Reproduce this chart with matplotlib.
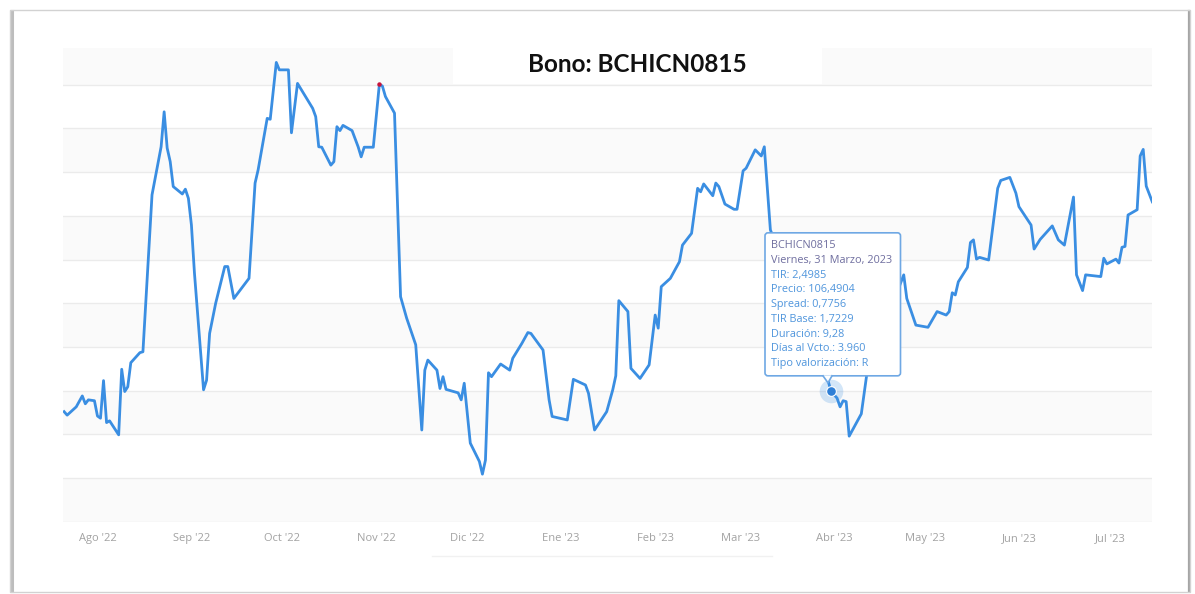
"""TIR history of bond BCHICN0815, redrawn as a Highcharts-like line chart."""

import matplotlib

matplotlib.use("Agg")
import matplotlib.dates as mdates  # noqa: E402
import matplotlib.pyplot as plt  # noqa: E402
import matplotlib.transforms as mtransforms  # noqa: E402
import pandas as pd  # noqa: E402
from matplotlib.lines import Line2D  # noqa: E402
from matplotlib.patches import FancyBboxPatch, Polygon, Rectangle  # noqa: E402

plt.rcParams["font.family"] = ["Open Sans", "DejaVu Sans"]

TITLE = "Bono: BCHICN0815"

# daily TIR (y axis labels are blanked in the source)
dates = [
    "2022-07-21", "2022-07-22", "2022-07-25", "2022-07-27", "2022-07-28", "2022-07-29",
    "2022-07-31", "2022-08-01", "2022-08-02", "2022-08-03", "2022-08-04", "2022-08-05",
    "2022-08-08", "2022-08-09", "2022-08-10", "2022-08-11", "2022-08-12", "2022-08-15",
    "2022-08-16", "2022-08-19", "2022-08-22", "2022-08-23", "2022-08-24", "2022-08-25",
    "2022-08-26", "2022-08-29", "2022-08-30", "2022-08-31", "2022-09-01", "2022-09-02",
    "2022-09-05", "2022-09-06", "2022-09-07", "2022-09-09", "2022-09-12", "2022-09-13",
    "2022-09-15", "2022-09-20", "2022-09-22", "2022-09-23", "2022-09-26", "2022-09-27",
    "2022-09-29", "2022-09-30", "2022-10-03", "2022-10-04", "2022-10-06", "2022-10-11",
    "2022-10-12", "2022-10-13", "2022-10-14", "2022-10-17", "2022-10-18", "2022-10-19",
    "2022-10-20", "2022-10-21", "2022-10-24", "2022-10-26", "2022-10-27", "2022-10-28",
    "2022-10-31", "2022-11-02", "2022-11-03", "2022-11-04", "2022-11-07", "2022-11-09",
    "2022-11-11", "2022-11-14", "2022-11-16", "2022-11-17", "2022-11-18", "2022-11-21",
    "2022-11-22", "2022-11-23", "2022-11-24", "2022-11-28", "2022-11-29", "2022-11-30",
    "2022-12-02", "2022-12-05", "2022-12-06", "2022-12-07", "2022-12-08", "2022-12-09",
    "2022-12-12", "2022-12-15", "2022-12-16", "2022-12-19", "2022-12-21", "2022-12-22",
    "2022-12-26", "2022-12-28", "2022-12-29", "2023-01-03", "2023-01-05", "2023-01-09",
    "2023-01-10", "2023-01-12", "2023-01-16", "2023-01-18", "2023-01-19", "2023-01-20",
    "2023-01-23", "2023-01-24", "2023-01-27", "2023-01-30", "2023-02-01", "2023-02-02",
    "2023-02-03", "2023-02-06", "2023-02-09", "2023-02-10", "2023-02-13", "2023-02-15",
    "2023-02-16", "2023-02-17", "2023-02-20", "2023-02-21", "2023-02-22", "2023-02-24",
    "2023-02-27", "2023-02-28", "2023-03-02", "2023-03-03", "2023-03-06", "2023-03-08",
    "2023-03-09", "2023-03-11", "2023-03-30", "2023-03-31", "2023-04-02", "2023-04-03",
    "2023-04-04", "2023-04-05", "2023-04-06", "2023-04-10", "2023-04-12", "2023-04-24",
    "2023-04-25", "2023-04-28", "2023-05-02", "2023-05-04", "2023-05-05", "2023-05-08",
    "2023-05-09", "2023-05-10", "2023-05-11", "2023-05-12", "2023-05-15", "2023-05-16",
    "2023-05-17", "2023-05-18", "2023-05-19", "2023-05-22", "2023-05-25", "2023-05-26",
    "2023-05-29", "2023-05-31", "2023-06-01", "2023-06-05", "2023-06-06", "2023-06-08",
    "2023-06-12", "2023-06-14", "2023-06-16", "2023-06-19", "2023-06-20", "2023-06-22",
    "2023-06-23", "2023-06-28", "2023-06-29", "2023-06-30", "2023-07-03", "2023-07-04",
    "2023-07-05", "2023-07-06", "2023-07-07", "2023-07-10", "2023-07-11", "2023-07-12",
    "2023-07-13", "2023-07-15",
]
tir = [
    2.452, 2.444, 2.463, 2.488, 2.470, 2.479,
    2.477, 2.442, 2.437, 2.523, 2.427, 2.431,
    2.399, 2.549, 2.498, 2.509, 2.564, 2.587,
    2.589, 2.948, 3.058, 3.138, 3.055, 3.024,
    2.967, 2.950, 2.961, 2.940, 2.879, 2.769,
    2.502, 2.524, 2.631, 2.700, 2.784, 2.784,
    2.711, 2.757, 2.975, 3.005, 3.123, 3.121,
    3.251, 3.234, 3.234, 3.090, 3.203, 3.146,
    3.127, 3.058, 3.057, 3.016, 3.024, 3.104,
    3.095, 3.107, 3.095, 3.058, 3.035, 3.057,
    3.057, 3.201, 3.197, 3.173, 3.135, 2.715,
    2.666, 2.605, 2.410, 2.547, 2.570, 2.547,
    2.505, 2.532, 2.503, 2.495, 2.479, 2.517,
    2.380, 2.338, 2.309, 2.341, 2.541, 2.532,
    2.561, 2.547, 2.574, 2.608, 2.633, 2.631,
    2.593, 2.479, 2.441, 2.433, 2.526, 2.513,
    2.494, 2.410, 2.452, 2.502, 2.534, 2.706,
    2.681, 2.551, 2.528, 2.559, 2.673, 2.643,
    2.738, 2.757, 2.795, 2.833, 2.860, 2.963,
    2.955, 2.973, 2.946, 2.975, 2.967, 2.927,
    2.915, 2.915, 3.003, 3.009, 3.051, 3.037,
    3.058, 2.868, 2.524, 2.4985, 2.483, 2.463,
    2.477, 2.475, 2.396, 2.447, 2.547, 2.765,
    2.711, 2.650, 2.645, 2.669, 2.681, 2.673,
    2.681, 2.724, 2.719, 2.749, 2.782, 2.839,
    2.845, 2.801, 2.805, 2.799, 2.963, 2.981,
    2.988, 2.952, 2.921, 2.879, 2.824, 2.846,
    2.877, 2.845, 2.833, 2.943, 2.765, 2.729,
    2.765, 2.761, 2.803, 2.790, 2.801, 2.792,
    2.828, 2.830, 2.902, 2.914, 3.037, 3.052,
    2.968, 2.932,
]

month_ticks = [
    "2022-08-01", "2022-09-01", "2022-10-01", "2022-11-01", "2022-12-01", "2023-01-01",
    "2023-02-01", "2023-03-01", "2023-04-01", "2023-05-01", "2023-06-01", "2023-07-01",
]
month_labels = [
    "Ago '22", "Sep '22", "Oct '22", "Nov '22", "Dic '22", "Ene '23",
    "Feb '23", "Mar '23", "Abr '23", "May '23", "Jun '23", "Jul '23",
]

grid_levels = [2.2, 2.3, 2.4, 2.5, 2.6, 2.7, 2.8, 2.9, 3.0, 3.1, 3.2]

# point flagged in red on the chart, and the hovered point with its tooltip
flag_date = "2022-11-02"
hover_date = "2023-03-31"
tooltip_head = ["BCHICN0815", "Viernes, 31 Marzo, 2023"]
tooltip_body = [
    "TIR: 2,4985",
    "Precio: 106,4904",
    "Spread: 0,7756",
    "TIR Base: 1,7229",
    "Duración: 9,28",
    "Días al Vcto.: 3.960",
    "Tipo valorización: R",
]

LINE = "#3a8ee2"
Y_MIN, Y_MAX = 2.2, 3.284
W, H = 1195, 594

series = pd.Series(tir, index=pd.to_datetime(dates))

fig = plt.figure(figsize=(W / 100, H / 100), dpi=100)
fig.patch.set_facecolor("white")

# card frame around the screenshot (kept behind the axes)
fig.patches.append(Rectangle((10 / W, 2 / H), 1180 / W, 582 / H, transform=fig.transFigure,
                             facecolor="none", edgecolor="#d2d2d2", lw=1.0, zorder=-1))
fig.lines.append(Line2D([11.5 / W, 11.5 / W], [3 / H, 583 / H], transform=fig.transFigure,
                        color="#bdbdbd", lw=2.2, zorder=-1))
fig.lines.append(Line2D([1189 / W, 1189 / W], [3 / H, 583 / H], transform=fig.transFigure,
                        color="#a5a5a5", lw=1.6, zorder=-1))
fig.lines.append(Line2D([432 / W, 772 / W], [1 - 556 / H, 1 - 556 / H],
                        transform=fig.transFigure, color="#f1f1f1", lw=1.0, zorder=-1))

ax = fig.add_axes([62.6 / W, 1 - 521.8 / H, (1152.3 - 62.6) / W, (521.8 - 48) / H])
ax.set_facecolor("white")
x_left = pd.Timestamp("2022-07-20 12:00")
x_right = pd.Timestamp("2023-07-15 00:00")
ax.set_xlim(x_left, x_right)
ax.set_ylim(Y_MIN, Y_MAX)

# alternating plot bands + grid lines
band_edges = grid_levels + [Y_MAX]
for i in range(0, len(band_edges) - 1, 2):
    ax.axhspan(band_edges[i], band_edges[i + 1], color="#fafafa", lw=0, zorder=0)
for lvl in grid_levels:
    ax.axhline(lvl, color="#ebebeb", lw=1.0, zorder=0.5)

# white box behind the title
ax.add_patch(Rectangle((453 / W, 1 - 84 / H), (822 - 453) / W, 36 / H,
                       transform=fig.transFigure, facecolor="white", lw=0, zorder=1.5))
fig.text(637.5 / W, 1 - 65 / H, TITLE, ha="center", va="center", fontsize=17.5,
         fontweight="bold", family=["Lato", "DejaVu Sans"], color="#111111")

ax.plot(series.index, series.values, color=LINE, lw=2.0, solid_joinstyle="round", zorder=3)

flag = pd.Timestamp(flag_date)
ax.plot([flag], [series[flag]], "o", color="#c8143c", ms=3.2, mec="none", zorder=4)

hover = pd.Timestamp(hover_date)
hv = series[hover]
ax.plot([hover], [hv], "o", color=LINE, alpha=0.22, ms=17, mec="none", zorder=4)
ax.plot([hover], [hv], "o", color="#2f7fd6", ms=7, mec="white", mew=0.8, zorder=5)

# tooltip anchored on the hovered point, sized in inches (100 px each)
anchor = fig.dpi_scale_trans + mtransforms.ScaledTranslation(
    mdates.date2num(hover), hv, ax.transData)
box = FancyBboxPatch((-0.66, 0.155), 1.355, 1.43, boxstyle="round,pad=0,rounding_size=0.03",
                     transform=anchor, facecolor="white", edgecolor="#6fa8e4", lw=1.2,
                     zorder=6, clip_on=False)
ax.add_patch(box)
ax.add_patch(Polygon([(-0.08, 0.16), (0.01, 0.16), (-0.03, 0.085)], closed=True,
                     transform=anchor, facecolor="white", edgecolor="none", zorder=7,
                     clip_on=False))
ax.add_line(Line2D([-0.08, -0.03, 0.01], [0.155, 0.085, 0.155], transform=anchor,
                   color="#6fa8e4", lw=1.2, zorder=7, clip_on=False))
lines = tooltip_head + tooltip_body
colors = ["#6f6e9f"] * len(tooltip_head) + ["#4f95dc"] * len(tooltip_body)
for i, (txt, col) in enumerate(zip(lines, colors)):
    ax.text(-0.595, 1.457 - i * 0.1475, txt, transform=anchor, fontsize=7.8, color=col,
            ha="left", va="center", zorder=8, clip_on=False)

ax.set_xticks(pd.to_datetime(month_ticks))
ax.set_xticklabels(month_labels)
ax.tick_params(axis="x", length=0, pad=8, labelsize=8, labelcolor="#a2a2a2")
ax.set_yticks([])
for side in ax.spines.values():
    side.set_visible(False)

fig.savefig("out.png", dpi=100)
plt.close(fig)
